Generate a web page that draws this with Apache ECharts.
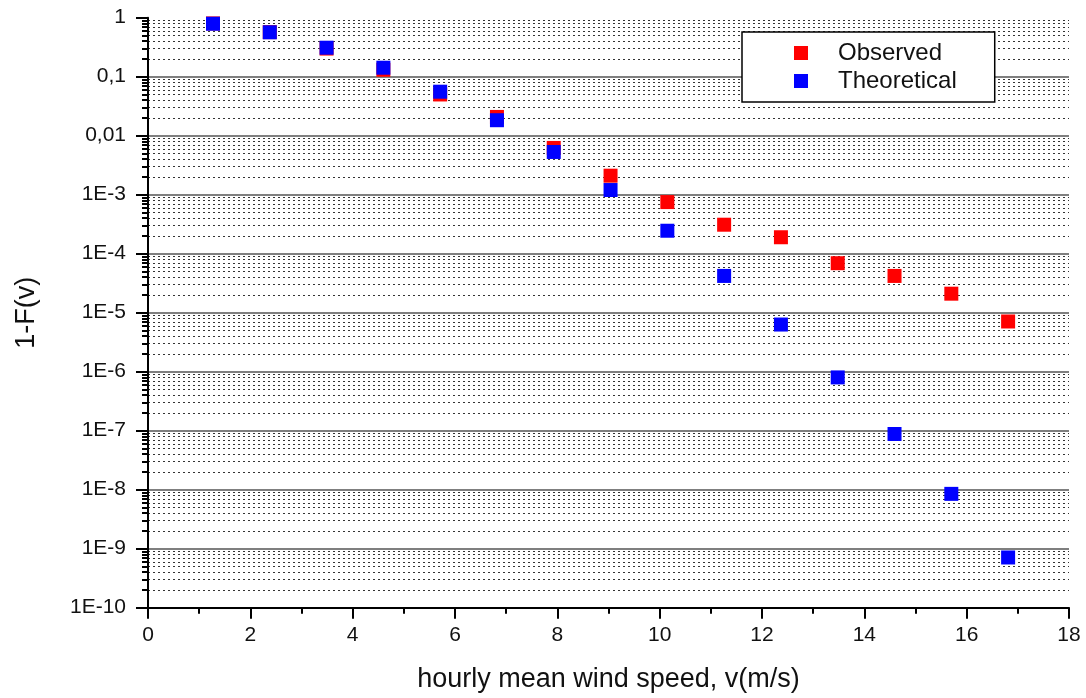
<!DOCTYPE html>
<html><head><meta charset="utf-8">
<script src="https://cdn.jsdelivr.net/npm/echarts@6/dist/echarts.min.js"></script>
<style>html,body{margin:0;padding:0;background:#fff}#c{width:1086px;height:698px}</style>
</head><body><div id="c"></div>
<script>
const windSpeed = [1.27, 2.38, 3.49, 4.60, 5.71, 6.82, 7.93, 9.04, 10.15, 11.26, 12.37, 13.48, 14.59, 15.70, 16.81];
const observed = [0.80, 0.57, 0.30, 0.131, 0.050, 0.0208, 0.0062, 0.0021, 7.5e-4, 3.1e-4, 1.9e-4, 6.9e-5, 4.2e-5, 2.1e-5, 7.1e-6];
const theoretical = [0.79, 0.566, 0.31, 0.142, 0.0557, 0.0183, 0.0053, 0.0012, 2.45e-4, 4.2e-5, 6.3e-6, 8.0e-7, 8.8e-8, 8.5e-9, 7.1e-10];
const yTickLabels = ['1E-10','1E-9','1E-8','1E-7','1E-6','1E-5','1E-4','1E-3','0,01','0,1','1'];
const seriesNames = ['Observed', 'Theoretical'];

const minorValues = [];
for (let e = -10; e < 0; e++) for (let m = 2; m <= 9; m++) minorValues.push(+(m * Math.pow(10, e)).toPrecision(3));

const FONT = '"Liberation Sans", Arial, sans-serif';
const chart = echarts.init(document.getElementById('c'), null, {renderer: 'canvas'});
chart.setOption({
  animation: false,
  backgroundColor: '#fff',
  textStyle: {fontFamily: FONT},
  grid: {left: 148, right: 17, top: 17.7, bottom: 90.3, containLabel: false},
  legend: {
    orient: 'vertical', left: 742, top: 32,
    backgroundColor: '#fff', borderColor: '#000', borderWidth: 1.5, borderRadius: 0,
    padding: [9, 38, 9, 52], itemGap: 4, itemWidth: 14, itemHeight: 14, icon: 'rect',
    textStyle: {fontSize: 24, color: '#111', fontFamily: FONT, padding: [0, 0, 0, 25]},
    data: seriesNames
  },
  xAxis: {
    type: 'value', min: 0, max: 18, interval: 2,
    name: 'hourly mean wind speed, v(m/s)', nameLocation: 'middle', nameGap: 58,
    nameTextStyle: {fontSize: 27, color: '#111', fontFamily: FONT},
    axisLine: {show: true, lineStyle: {color: '#000', width: 2}},
    axisTick: {show: true, length: 11, lineStyle: {color: '#000', width: 2}},
    minorTick: {show: true, splitNumber: 2, length: 6, lineStyle: {color: '#000', width: 2}},
    axisLabel: {fontSize: 21, color: '#111', margin: 17, fontFamily: FONT},
    splitLine: {show: false}
  },
  yAxis: [{
    type: 'log', logBase: 10, min: 1e-10, max: 1, interval: 1,
    name: '1-F(v)', nameLocation: 'middle', nameGap: 108, nameRotate: 90,
    nameTextStyle: {fontSize: 27, color: '#111', fontFamily: FONT},
    axisLine: {show: true, lineStyle: {color: '#000', width: 2}},
    axisTick: {show: true, length: 12, lineStyle: {color: '#000', width: 2}},
    axisLabel: {fontSize: 21, color: '#111', margin: 22, fontFamily: FONT,
      formatter: v => yTickLabels[Math.round(Math.log10(v)) + 10]},
    splitLine: {show: true, showMinLine: false, showMaxLine: false, lineStyle: {color: '#555', width: 1.5}}
  }, {
    type: 'log', logBase: 10, min: 1e-10, max: 1, position: 'left',
    axisLine: {show: false},
    axisTick: {show: true, length: 6, customValues: minorValues, lineStyle: {color: '#000', width: 2}},
    axisLabel: {show: false},
    splitLine: {show: true, lineStyle: {color: '#333', width: 1, type: [2, 3]}}
  }],
  series: [{
    name: seriesNames[0], type: 'scatter', symbol: 'rect', symbolSize: 14, z: 3,
    itemStyle: {color: '#ff0000', opacity: 1},
    data: windSpeed.map((x, i) => [x, observed[i]])
  }, {
    name: seriesNames[1], type: 'scatter', symbol: 'rect', symbolSize: 14, z: 4,
    itemStyle: {color: '#0000ff', opacity: 1},
    data: windSpeed.map((x, i) => [x, theoretical[i]])
  }]
});
</script></body></html>
